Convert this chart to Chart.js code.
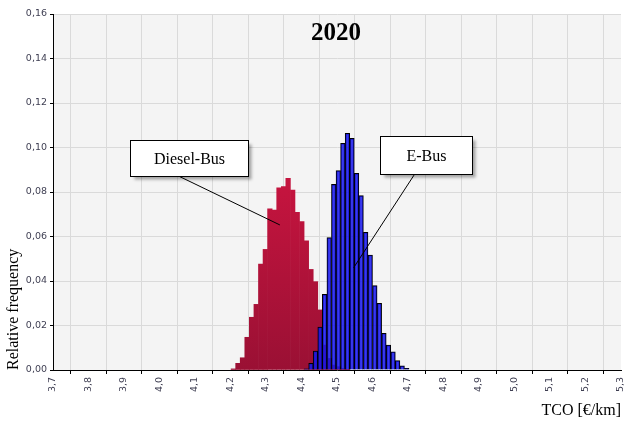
<!DOCTYPE html>
<html>
<head>
<meta charset="utf-8">
<script src="https://cdn.jsdelivr.net/npm/chart.js@4/dist/chart.umd.min.js"></script>
<style>
html,body{margin:0;padding:0;background:#fff;}
#wrap{width:625px;height:423px;position:relative;}
</style>
</head>
<body>
<div id="wrap"><canvas id="c" width="625" height="423"></canvas></div>
<script>
// ---- data ----
const chartTitle = "2020";
const xAxisTitle = "TCO [€/km]";
const yAxisTitle = "Relative frequency";
const seriesNames = ["Diesel-Bus", "E-Bus"];

// histogram bin centres (TCO, €/km)
const binCenters = [4.2081, 4.2210, 4.2338, 4.2467, 4.2595, 4.2724, 4.2852, 4.2981, 4.3109, 4.3238,
                    4.3366, 4.3495, 4.3623, 4.3752, 4.3880, 4.4009, 4.4137, 4.4266, 4.4394, 4.4523,
                    4.4651, 4.4780, 4.4908, 4.5037, 4.5165, 4.5294, 4.5422, 4.5551, 4.5679, 4.5808,
                    4.5936, 4.6065, 4.6193, 4.6322, 4.6450, 4.6579, 4.6707, 4.6836, 4.6964];

const dieselFreq = [0.0005, 0.0030, 0.0055, 0.0147, 0.0237, 0.0295, 0.0476, 0.0542, 0.0724, 0.0719,
                    0.0819, 0.0824, 0.0861, 0.0809, 0.0709, 0.0667, 0.0580, 0.0452, 0.0397, 0.0270,
                    0.0112, 0.0052, 0.0022, 0.0015, 0.0007, 0.0003, null, null, null, null,
                    null, null, null, null, null, null, null, null, null];

const eBusFreq   = [null, null, null, null, null, null, null, null, null, null,
                    null, null, null, null, null, null, 0.0005, 0.0030, 0.0085, 0.0193,
                    0.0340, 0.0595, 0.0834, 0.0896, 0.1019, 0.1064, 0.1041, 0.0884, 0.0784, 0.0619,
                    0.0517, 0.0379, 0.0300, 0.0165, 0.0112, 0.0082, 0.0042, 0.0019, 0.0007];

const xMin = 3.7, xMax = 5.3, xStep = 0.1;
const yMin = 0, yMax = 0.16, yStep = 0.02;

// callout annotations (anchored in data coordinates)
const titlePos = {x: 4.497, y: 0.151};
const callouts = [
  {label: seriesNames[0], box: [3.916, 0.1034, 4.249, 0.0872], from: [4.052, 0.0873], to: [4.339, 0.0652]},
  {label: seriesNames[1], box: [4.621, 0.1052, 4.880, 0.0881], from: [4.717, 0.0876], to: [4.547, 0.0460]}
];

const toPts = arr => binCenters.map((x, i) => ({x: x, y: arr[i]}));

const plotBg = {
  id: 'plotBg',
  beforeDraw(chart) {
    const {ctx, chartArea: a} = chart;
    ctx.save();
    ctx.fillStyle = '#F4F4F4';
    ctx.fillRect(a.left, a.top, a.right - a.left, a.bottom - a.top);
    ctx.restore();
  }
};

const calloutPlugin = {
  id: 'callouts',
  afterDraw(chart) {
    const {ctx, scales: {x, y}} = chart;
    ctx.save();
    ctx.fillStyle = '#000';
    ctx.textAlign = 'center';
    ctx.textBaseline = 'middle';
    ctx.font = 'bold 25px "Liberation Serif", serif';
    ctx.fillText(chartTitle, x.getPixelForValue(titlePos.x), y.getPixelForValue(titlePos.y));
    callouts.forEach(c => {
      ctx.strokeStyle = '#000';
      ctx.lineWidth = 1;
      ctx.beginPath();
      ctx.moveTo(x.getPixelForValue(c.from[0]), y.getPixelForValue(c.from[1]));
      ctx.lineTo(x.getPixelForValue(c.to[0]), y.getPixelForValue(c.to[1]));
      ctx.stroke();
      const l = Math.round(x.getPixelForValue(c.box[0])) + 0.5;
      const r = Math.round(x.getPixelForValue(c.box[2])) + 0.5;
      const t = Math.round(y.getPixelForValue(c.box[1])) + 0.5;
      const b = Math.round(y.getPixelForValue(c.box[3])) + 0.5;
      ctx.save();
      ctx.shadowColor = 'rgba(0,0,0,0.35)';
      ctx.shadowOffsetX = 3; ctx.shadowOffsetY = 3; ctx.shadowBlur = 3;
      ctx.fillStyle = '#fff';
      ctx.fillRect(l, t, r - l, b - t);
      ctx.restore();
      ctx.strokeRect(l, t, r - l, b - t);
      ctx.fillStyle = '#000';
      ctx.font = '16px "Liberation Serif", serif';
      ctx.fillText(c.label, (l + r) / 2, (t + b) / 2 + 1);
    });
    ctx.restore();
  }
};

const redFill = (context) => {
  const a = context.chart.chartArea;
  if (!a) return '#C3143E';
  const g = context.chart.ctx.createLinearGradient(0, a.top, 0, a.bottom);
  g.addColorStop(0, '#D0174A');
  g.addColorStop(0.5, '#C3143E');
  g.addColorStop(1, '#9A1034');
  return g;
};

const labelColor = '#3E3E52';
const tickFont = {family: '"DejaVu Sans", sans-serif', size: 9.5};

new Chart(document.getElementById('c'), {
  type: 'bar',
  data: {
    datasets: [
      {label: seriesNames[0], data: toPts(dieselFreq), backgroundColor: redFill,
       borderWidth: 0, order: 2, barPercentage: 1, categoryPercentage: 1, grouped: false},
      {label: seriesNames[1], data: toPts(eBusFreq), backgroundColor: 'rgba(24,24,238,0.85)',
       borderColor: '#000', borderWidth: 1, order: 1, barPercentage: 1, categoryPercentage: 1, grouped: false}
    ]
  },
  options: {
    responsive: false,
    devicePixelRatio: 1,
    animation: false,
    layout: {padding: {top: 14, right: 4, left: 0, bottom: 0}},
    plugins: {legend: {display: false}, tooltip: {enabled: false}},
    scales: {
      x: {
        type: 'linear', min: xMin, max: xMax, offset: false,
        afterFit: s => { s.height = 53; s.paddingLeft = 0; s.paddingRight = 0; },
        ticks: {stepSize: xStep, autoSkip: false, minRotation: 90, maxRotation: 90, padding: 3,
                color: labelColor, font: tickFont,
                callback: v => v.toFixed(1).replace('.', ',')},
        grid: {color: '#DADADA', tickColor: '#000', tickLength: 4},
        border: {color: '#000', width: 1},
        title: {display: true, text: xAxisTitle, align: 'end', color: '#000',
                font: {family: '"Liberation Serif", serif', size: 16}, padding: {top: 0, bottom: 3}}
      },
      y: {
        min: yMin, max: yMax,
        afterFit: s => { s.width = 53; s.paddingTop = 0; s.paddingBottom = 0; },
        ticks: {stepSize: yStep, padding: 3, color: labelColor, font: tickFont,
                callback: v => v.toFixed(2).replace('.', ',')},
        grid: {color: '#DADADA', tickColor: '#000', tickLength: 3},
        border: {color: '#000', width: 1},
        title: {display: true, text: yAxisTitle, align: 'start', color: '#000',
                font: {family: '"Liberation Serif", serif', size: 16}, padding: {top: 4, bottom: 0}}
      }
    }
  },
  plugins: [plotBg, calloutPlugin]
});
</script>
</body>
</html>
